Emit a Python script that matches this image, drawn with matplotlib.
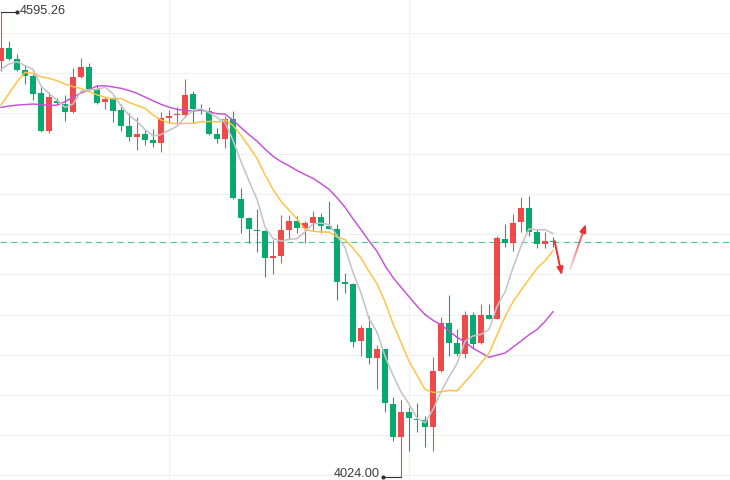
import numpy as np
import pandas as pd
import matplotlib
matplotlib.use("Agg")
import matplotlib.pyplot as plt
from matplotlib.collections import LineCollection
from matplotlib.colors import to_rgba

plt.rcParams['font.family'] = ['Liberation Sans', 'DejaVu Sans']

# ---------------- data ----------------
opens = [4535.7, 4551.7, 4537.8, 4524.3, 4517.3, 4496.0, 4449.6, 4486.5, 4482.5, 4473.0,
         4516.0, 4528.3, 4500.9, 4484.6, 4488.2, 4475.1, 4455.8, 4442.2, 4445.6, 4438.2,
         4434.1, 4464.9, 4468.6, 4468.9, 4494.8, 4476.3, 4474.2, 4445.6, 4439.4, 4463.6,
         4365.6, 4342.2, 4327.5, 4326.2, 4293.4, 4295.9, 4327.5, 4338.5, 4330.3, 4336.5,
         4343.5, 4332.4, 4329.1, 4263.5, 4261.4, 4191.3, 4206.6, 4170.4, 4181.1, 4113.4,
         4073.2, 4103.2, 4095.8, 4093.8, 4085.5, 4154.0, 4212.7, 4188.1, 4174.9, 4222.9,
         4188.8, 4222.9, 4218.4, 4316.4, 4311.1, 4337.7, 4354.9, 4325.4, 4309.9, 4313.1]

closes = [4551.7, 4537.8, 4524.3, 4517.3, 4495.1, 4449.6, 4491.1, 4483.3, 4473.0, 4515.7,
          4527.6, 4500.9, 4484.1, 4488.2, 4474.2, 4455.4, 4442.2, 4445.6, 4438.2, 4434.1,
          4464.9, 4467.7, 4470.2, 4493.9, 4476.3, 4474.2, 4445.6, 4439.4, 4463.6, 4366.5,
          4342.6, 4328.3, 4325.9, 4293.4, 4295.1, 4327.5, 4338.5, 4330.3, 4335.7, 4343.5,
          4332.4, 4329.1, 4263.9, 4261.4, 4190.1, 4206.6, 4170.4, 4181.1, 4114.3, 4073.2,
          4103.2, 4096.6, 4094.1, 4085.5, 4154.0, 4213.1, 4188.8, 4174.9, 4222.9, 4186.9,
          4222.9, 4218.4, 4317.3, 4311.1, 4336.5, 4354.9, 4325.4, 4309.9, 4313.9, 4312.3]

highs = [4595.26, 4560.0, 4544.0, 4530.4, 4519.0, 4503.0, 4497.2, 4489.8, 4493.5, 4526.7,
         4538.7, 4533.3, 4505.8, 4490.7, 4491.1, 4482.5, 4471.0, 4466.1, 4450.5, 4451.3,
         4473.0, 4475.1, 4479.1, 4512.8, 4498.8, 4482.5, 4479.1, 4452.6, 4467.7, 4474.2,
         4378.8, 4343.0, 4352.9, 4327.0, 4315.2, 4345.6, 4345.6, 4344.7, 4338.5, 4350.5,
         4348.8, 4363.1, 4334.5, 4274.2, 4262.0, 4210.6, 4221.7, 4186.0, 4182.0, 4122.4,
         4118.4, 4110.1, 4114.3, 4099.0, 4170.9, 4221.1, 4247.5, 4205.3, 4228.2, 4226.2,
         4236.1, 4236.1, 4320.1, 4334.5, 4346.8, 4368.4, 4369.7, 4328.3, 4325.4, 4318.5]

lows = [4523.4, 4536.6, 4523.1, 4507.1, 4487.0, 4448.0, 4446.4, 4481.2, 4461.5, 4471.4,
        4515.0, 4500.0, 4482.1, 4476.3, 4460.7, 4449.3, 4437.3, 4425.9, 4432.0, 4429.2,
        4423.1, 4458.7, 4457.9, 4466.8, 4458.7, 4470.2, 4445.0, 4434.1, 4428.0, 4366.0,
        4323.4, 4311.1, 4300.0, 4269.3, 4273.3, 4286.5, 4316.0, 4324.2, 4311.8, 4327.5,
        4324.2, 4328.5, 4241.4, 4250.3, 4183.9, 4172.8, 4162.3, 4132.7, 4103.2, 4068.3,
        4024.0, 4055.6, 4079.4, 4060.9, 4055.6, 4153.5, 4172.5, 4172.5, 4170.4, 4182.7,
        4188.0, 4218.0, 4218.0, 4306.9, 4301.6, 4324.6, 4320.1, 4305.7, 4305.7, 4306.9]

# moving-average values before the window has enough candles
ma5_head = [4524.9, 4531.7, 4534.5, 4529.8]
ma10_head = [4481.2, 4495.6, 4509.9, 4521.5, 4520.2, 4516.0, 4514.1, 4511.1, 4507.1]
ma20_head = [4478.4, 4480.0, 4481.2, 4481.8, 4482.5, 4481.8, 4480.6, 4481.2, 4485.3, 4491.1,
             4496.0, 4500.3, 4504.6, 4505.0, 4503.4, 4501.8, 4499.1, 4495.6, 4491.1]

grid_levels = [4569.4, 4520.2, 4471.0, 4420.6, 4371.4, 4322.2, 4273.0, 4222.9, 4173.7,
               4124.5, 4075.3, 4026.1]
grid_vertical_idx = [21, 51]

high_label = "4595.26"
low_label = "4024.00"

# forecast arrows (annotation, index / price)
down_arrow = [(69.2, 4314.0), (70.1, 4272.0)]
up_arrow = [(71.1, 4278.3), (73.1, 4334.8)]

# ---------------- derived ----------------
o = np.array(opens); c = np.array(closes); h = np.array(highs); l = np.array(lows)
idx = np.arange(len(o))
cs = pd.Series(c)


def ma(n, head):
    m = cs.rolling(n).mean().to_numpy()
    m[:n - 1] = head
    return m


ma5 = ma(5, ma5_head)
ma10 = ma(10, ma10_head)
ma20 = ma(20, ma20_head)

RED = '#EE4A4A'
GREEN = '#08A96F'

fig = plt.figure(figsize=(7.3, 4.8), dpi=100)
ax = fig.add_axes([0, 0, 1, 1])
ax.set_xlim(-0.125, 91.125)
ax.set_ylim(4020.2, 4610.4)
ax.axis('off')

# grid
for g in grid_levels:
    ax.axhline(g, color='#F0F0F0', lw=0.8, zorder=0)
for v in grid_vertical_idx:
    ax.axvline(v, color='#F0F0F0', lw=0.8, zorder=0)

up = c >= o
colors = np.where(up, RED, GREEN)
ax.vlines(idx, l, h, colors=colors, lw=0.8, zorder=2)
body_bottom = np.minimum(o, c)
body_h = np.maximum(np.abs(c - o), 1.3)
ax.bar(idx, body_h, bottom=body_bottom, width=0.75, color=colors, linewidth=0, zorder=3)

# moving averages
ax.plot(idx, ma20, color='#C64FD9', lw=1.05, zorder=4)
ax.plot(idx, ma10, color='#FFC23E', lw=1.05, zorder=4)
ax.plot(idx, ma5, color='#C4C4C4', lw=1.15, zorder=4)

# current price dashed line
ax.axhline(c[-1], color='#55C79C', lw=0.9, ls=(0, (5, 3.5)), zorder=1)

# high / low labels
hi_i = int(np.argmax(h)); lo_i = int(np.argmin(l))
ax.plot([hi_i, hi_i + 2.0], [h[hi_i], h[hi_i]], color='#333333', lw=0.8, zorder=5)
ax.plot([hi_i + 2.0], [h[hi_i]], 'o', color='#333333', ms=2, zorder=5)
ax.annotate(high_label, (hi_i + 2.4, h[hi_i]), xytext=(0, 0.6), textcoords='offset points',
            ha='left', va='center', fontsize=9.2, color='#3A3A3A')
ax.plot([lo_i - 2.3, lo_i], [l[lo_i], l[lo_i]], color='#333333', lw=0.8, zorder=5)
ax.plot([lo_i - 2.3], [l[lo_i]], 'o', color='#333333', ms=2, zorder=5)
ax.annotate(low_label, (lo_i - 2.6, l[lo_i]), xytext=(0, 2.0), textcoords='offset points',
            ha='right', va='center', fontsize=9.2, color='#3A3A3A')

# arrows
ARW = '#F22F2F'
ax.annotate('', xy=down_arrow[1], xytext=down_arrow[0],
            arrowprops=dict(arrowstyle='-|>,head_length=0.45,head_width=0.18',
                            color=ARW, lw=1.4, mutation_scale=10, shrinkA=0, shrinkB=0),
            zorder=6)
(x0, y0), (x1, y1) = up_arrow
n = 24
xs = np.linspace(x0, x1, n + 1); ys = np.linspace(y0, y1, n + 1)
segs = [[(xs[k], ys[k]), (xs[k + 1], ys[k + 1])] for k in range(n - 2)]
base = np.array(to_rgba(ARW))
cols = [tuple(base[:3]) + (0.2 + 0.8 * k / (n - 3),) for k in range(n - 2)]
ax.add_collection(LineCollection(segs, colors=cols, linewidths=1.4, zorder=6))
ax.annotate('', xy=(x1, y1), xytext=(xs[n - 2], ys[n - 2]),
            arrowprops=dict(arrowstyle='-|>,head_length=0.45,head_width=0.18',
                            color=ARW, lw=1.4, mutation_scale=10, shrinkA=0, shrinkB=0), zorder=6)

fig.savefig('out.png', dpi=100, facecolor='white')
